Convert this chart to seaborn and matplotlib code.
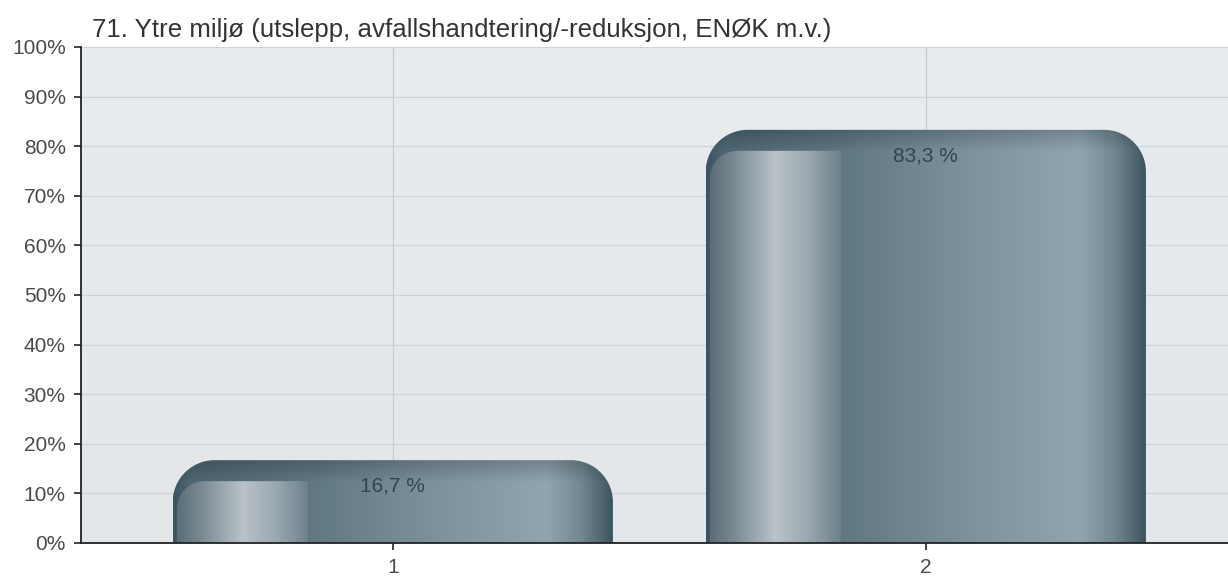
import numpy as np
import pandas as pd
import matplotlib
matplotlib.use("Agg")
import matplotlib.pyplot as plt
import seaborn as sns
from matplotlib.path import Path
from matplotlib.patches import PathPatch
from matplotlib.colors import to_rgb

categories = ["1", "2"]
values = [16.7, 83.3]
value_labels = ["16,7 %", "83,3 %"]
yticks = [0, 10, 20, 30, 40, 50, 60, 70, 80, 90, 100]
ytick_labels = [f"{v}%" for v in yticks]
title = "71. Ytre miljø (utslepp, avfallshandtering/-reduksjon, ENØK m.v.)"

sns.set_theme(style="white")
plt.rcParams['font.family'] = ['Liberation Sans', 'DejaVu Sans']

W, H, DPI = 1228, 578, 100
fig = plt.figure(figsize=(W / DPI, H / DPI), dpi=DPI)
fig.patch.set_facecolor("white")
ax = fig.add_axes([81 / W, (578 - 543) / H, (1228 - 81) / W, (543 - 47) / H])

df = pd.DataFrame({"cat": categories, "val": values})
sns.barplot(data=df, x="cat", y="val", ax=ax, width=0.826, color="#6e8592", zorder=3)

ax.set_xlim(-0.585, 1.567)
ax.set_ylim(0, 100)

# background gradient
bg = np.linspace(0, 1, 256).reshape(-1, 1)
c_top, c_bot = np.array(to_rgb("#e4e7ea")), np.array(to_rgb("#e9ecef"))
bgimg = c_top[None, None, :] * (1 - bg[..., None]) + c_bot[None, None, :] * bg[..., None]
ax.imshow(bgimg, extent=[-0.585, 1.567, 100, 0], aspect="auto", zorder=0)
ax.set_xlim(-0.585, 1.567)
ax.set_ylim(0, 100)

# grid
for y in yticks[1:]:
    ax.axhline(y, color="#cfd3d7", lw=0.9, zorder=1)
for x in range(len(categories)):
    ax.axvline(x, color="#c8ccd0", lw=0.9, zorder=1)

# pixel to data conversions
px_x = (1.567 + 0.585) / (1228 - 81)
px_y = 100 / (543 - 47)


def ramp(stops, n):
    pos = np.array([s[0] for s in stops])
    cols = np.array([to_rgb(s[1]) for s in stops])
    t = np.linspace(0, 1, n)
    return np.stack([np.interp(t, pos, cols[:, i]) for i in range(3)], axis=1)


def rounded_path(x0, x1, y0, y1, rx, ry, round_right=True):
    k = 0.5523
    verts = [(x0, y0), (x0, y1 - ry),
             (x0, y1 - ry + k * ry), (x0 + rx - k * rx, y1), (x0 + rx, y1)]
    codes = [Path.MOVETO, Path.LINETO, Path.CURVE4, Path.CURVE4, Path.CURVE4]
    if round_right:
        verts += [(x1 - rx, y1), (x1 - rx + k * rx, y1), (x1, y1 - ry + k * ry), (x1, y1 - ry)]
        codes += [Path.LINETO, Path.CURVE4, Path.CURVE4, Path.CURVE4]
    else:
        verts += [(x1, y1)]
        codes += [Path.LINETO]
    verts += [(x1, y0), (x0, y0)]
    codes += [Path.LINETO, Path.CLOSEPOLY]
    return Path(verts, codes)


outer_stops = [(0.0, "#3c5461"), (0.04, "#4f6774"), (0.3, "#5f7683"),
               (0.6, "#7d929e"), (0.85, "#90a5b1"), (0.93, "#70868f"), (1.0, "#3b515c")]
inner_stops = [(0.0, "#5a6d77"), (0.2, "#7d8d96"), (0.5, "#b9c2c8"),
               (0.75, "#9aa8b0"), (1.0, "#6c818c")]

for i, p in enumerate(ax.patches):
    x0, w, h = p.get_x(), p.get_width(), p.get_height()
    x1 = x0 + w
    p.set_visible(False)
    rx, ry = 42 * px_x, 42 * px_y
    path = rounded_path(x0, x1, 0, h, rx, ry)
    clip = PathPatch(path, transform=ax.transData, facecolor="none", edgecolor="none")
    ax.add_patch(clip)
    nrow = max(int(h / px_y), 2)
    cols = ramp(outer_stops, 400)
    img = np.repeat(cols[None, :, :], nrow, axis=0)
    d = np.arange(nrow)[:, None]  # px from top
    fac = np.clip(0.8 + 0.2 * d / 22.0, 0.8, 1.0)
    img = img * fac[..., None]
    im = ax.imshow(img, extent=[x0, x1, 0, h], origin="upper", aspect="auto", zorder=3)
    im.set_clip_path(clip)

    # inner highlight panel
    ix0 = x0 + 4 * px_x
    ix1 = x0 + 135 * px_x
    itop = h - 21 * px_y
    ipath = rounded_path(ix0, ix1, 0, itop, 28 * px_x, 28 * px_y, round_right=False)
    iclip = PathPatch(ipath, transform=ax.transData, facecolor="none", edgecolor="none")
    ax.add_patch(iclip)
    icols = ramp(inner_stops, 200)
    iimg = np.repeat(icols[None, :, :], 4, axis=0)
    im2 = ax.imshow(iimg, extent=[ix0, ix1, 0, itop], origin="upper", aspect="auto", zorder=4)
    im2.set_clip_path(iclip)

    ax.annotate(value_labels[i], xy=(x0 + w / 2, h), xytext=(0, -18.5), textcoords="offset points",
                ha="center", va="center", fontsize=15, color="#34444e", zorder=6)

ax.set_xlim(-0.585, 1.567)
ax.set_ylim(0, 100)
ax.set_yticks(yticks)
ax.set_yticklabels(ytick_labels)
ax.set_xlabel("")
ax.set_ylabel("")
for s in ["top", "right"]:
    ax.spines[s].set_visible(False)
for s in ["left", "bottom"]:
    ax.spines[s].set_color("#222222")
    ax.spines[s].set_linewidth(1.3)
    ax.spines[s].set_zorder(7)
ax.tick_params(axis="both", direction="out", length=5, width=1.2, color="#222222",
               labelsize=15, labelcolor="#4a4a4a", pad=6, left=True, bottom=True)
ax.tick_params(axis="x", pad=6)

fig.text(92 / W, 1 - 30 / H, title, fontsize=18.6, color="#333333", ha="left", va="center")

fig.savefig("out.png", dpi=DPI)
